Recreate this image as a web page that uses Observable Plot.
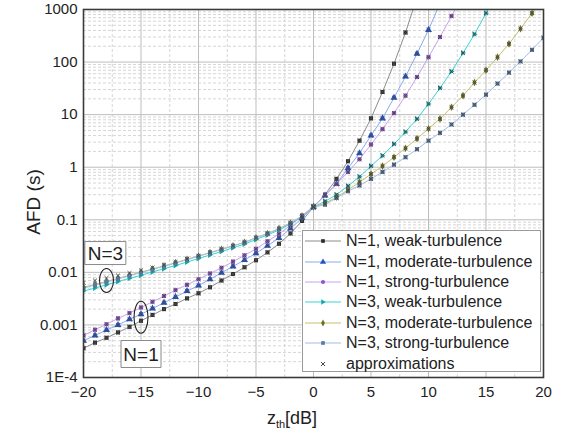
<!DOCTYPE html>
<html><head><meta charset="utf-8">
<script src="https://cdn.jsdelivr.net/npm/d3@7"></script>
<script src="https://cdn.jsdelivr.net/npm/@observablehq/plot@0.6"></script>
<style>
body{margin:0;background:#fff;font-family:"Liberation Sans",Arial,sans-serif;}
#wrap{position:relative;width:563px;height:441px;overflow:hidden;}
#legend{position:absolute;left:302px;top:230px;width:239px;height:142px;background:#fff;border:1px solid #9a9a9a;box-sizing:border-box;padding-top:0px;}
.lrow{height:20.4px;display:flex;align-items:center;font-size:16px;color:#222;white-space:nowrap;}
.lrow svg{flex:none;margin-right:3px;}
#ylab{position:absolute;left:34px;top:202px;transform:translate(-50%,-50%) rotate(-90deg);font-size:19px;color:#222;white-space:nowrap;}
#xlab{position:absolute;left:292px;top:426px;transform:translate(-50%,-80%);font-size:18px;color:#222;white-space:nowrap;}
#xlab sub{font-size:11px;vertical-align:-4px;}
</style></head><body>
<div id="wrap"></div>
<script>
// ---- data ----
const zdB = [-20,-19,-18,-17,-16,-15,-14,-13,-12,-11,-10,-9,-8,-7,-6,-5,-4,-3,-2,-1,0,1,2,3,4,5,6,7,8,9,10,11,12,13,14,15,16,17,18,19,20];
const seriesNames = ["N=1, weak-turbulence","N=1, moderate-turbulence","N=1, strong-turbulence","N=3, weak-turbulence","N=3, moderate-turbulence","N=3, strong-turbulence"];
const approxName = "approximations";
// values start at z = -20 dB, one per dB
const n1Weak = [3.6e-4,4.6e-4,5.7e-4,7.2e-4,9.2e-4,1.2e-3,1.55e-3,2.0e-3,2.5e-3,3.2e-3,
  4.0e-3,5.2e-3,7.0e-3,9.3e-3,0.0125,0.017,0.024,0.035,0.055,0.095,
  0.175,0.30,0.60,1.3,3.2,8.5,27,93,365,1700];
const n1Moderate = [5.0e-4,6.3e-4,8.0e-4,1.0e-3,1.28e-3,1.6e-3,2.05e-3,2.65e-3,3.4e-3,4.4e-3,
  5.6e-3,7.4e-3,9.8e-3,0.013,0.0172,0.023,0.032,0.045,0.068,0.108,
  0.178,0.29,0.48,0.96,1.85,4.0,8.5,21,53,144,410,1300];
const n1Strong = [6.3e-4,8.1e-4,1.03e-3,1.33e-3,1.68e-3,2.15e-3,2.75e-3,3.55e-3,4.6e-3,5.8e-3,
  7.4e-3,9.5e-3,0.0122,0.016,0.021,0.028,0.039,0.054,0.078,0.12,
  0.18,0.29,0.48,0.81,1.42,2.7,5.3,10.7,23,52,124,300,750,1900];
const n3Weak = [4.4e-3,5.04e-3,5.8e-3,6.7e-3,7.7e-3,8.8e-3,0.0102,0.0117,0.0135,0.0157,
  0.0183,0.0214,0.0249,0.0293,0.0346,0.0422,0.0513,0.064,0.083,0.115,
  0.175,0.224,0.30,0.44,0.66,1.05,1.66,2.75,4.7,8.3,16,32,66,148,340,850,2300];
const n3Moderate = [5.2e-3,5.9e-3,6.7e-3,7.7e-3,8.8e-3,0.0101,0.0116,0.0133,0.0153,0.0177,
  0.0205,0.0238,0.0275,0.032,0.0375,0.0455,0.055,0.068,0.087,0.118,
  0.175,0.205,0.27,0.37,0.52,0.74,1.05,1.55,2.3,3.5,5.4,8.3,13.8,23,41,70,124,222,430,850,1650];
const n3Strong = [5.0e-3,5.75e-3,6.55e-3,7.5e-3,8.6e-3,9.9e-3,0.0114,0.013,0.015,0.0174,
  0.0202,0.0235,0.0272,0.0317,0.037,0.045,0.0545,0.067,0.086,0.117,
  0.172,0.195,0.26,0.35,0.45,0.60,0.81,1.12,1.55,2.2,3.2,4.5,6.5,10,15.4,24,39,63,103,171,290];
// approximations for N=3 below 0 dB (sit slightly above the exact curves), z = -20 .. -1
const approxN3Low = [6.3e-3,7.0e-3,7.8e-3,8.7e-3,9.7e-3,0.0109,0.0123,0.0139,0.0158,0.018,
  0.0207,0.024,0.0277,0.0322,0.0377,0.0457,0.0552,0.068,0.087,0.118];
const xTickValues = [-20,-15,-10,-5,0,5,10,15,20];
const xMinorValues = [-17.5,-12.5,-7.5,-2.5,2.5,7.5,12.5,17.5];
const yTickValues = [1e-4,1e-3,0.01,0.1,1,10,100,1000];
const yTickLabels = ["1E-4","0.001","0.01","0.1","1","10","100","1000"];
const annLabels = ["N=3","N=1"];
const annZ = [-18.1,-15.0];
const annAFD = [0.0233,2.8e-4];
const ringZ = [-18.0,-15.0];
const ringAFD = [7.0e-3,1.4e-3];

// ---- styles ----
const allValues = [n1Weak,n1Moderate,n1Strong,n3Weak,n3Moderate,n3Strong];
const lineColors = ["#8c8c8c","#8aaaf0","#c7a2ee","#38d4d4","#c6c06a","#a3bde4"];
const markColors = ["#2a2a2a","#2354cc","#9254c9","#14a8ac","#6e6f22","#557aa8"];
const rightTri = {draw(ctx, size){const r=Math.sqrt(size/Math.PI)*1.25; ctx.moveTo(r,0); ctx.lineTo(-r*0.65,-r); ctx.lineTo(-r*0.65,r); ctx.closePath();}};
const symbols = [d3.symbolSquare, d3.symbolTriangle, d3.symbolCircle, rightTri, d3.symbolDiamond, d3.symbolSquare];
const markR = [2.3,2.6,2.3,2.4,2.3,2.3];
function ellipseSym(rx, ry){return {draw(ctx){const k=0.5523; ctx.moveTo(rx,0);
  ctx.bezierCurveTo(rx,ry*k,rx*k,ry,0,ry); ctx.bezierCurveTo(-rx*k,ry,-rx,ry*k,-rx,0);
  ctx.bezierCurveTo(-rx,-ry*k,-rx*k,-ry,0,-ry); ctx.bezierCurveTo(rx*k,-ry,rx,-ry*k,rx,0); ctx.closePath();}};}
function boxSym(w, h){return {draw(ctx){ctx.moveTo(-w/2,-h/2); ctx.lineTo(w/2,-h/2); ctx.lineTo(w/2,h/2); ctx.lineTo(-w/2,h/2); ctx.closePath();}};}

// ---- table ----
const rows = [];
allValues.forEach((vals, s) => vals.forEach((v, i) => rows.push({s, z: zdB[i], afd: v})));
const approxRows = rows.filter(d => d.s < 3 || d.z >= 0).map(d => ({z: d.z, afd: d.afd}));
approxN3Low.forEach((v, i) => approxRows.push({z: zdB[i], afd: v}));
const ann = annLabels.map((t, i) => ({t, z: annZ[i], afd: annAFD[i]}));
const rings = ringZ.map((z, i) => ({z, afd: ringAFD[i], i}));

// log minor grid values
const yMinor = [];
for (let e = -4; e < 3; e++) for (let m = 2; m <= 9; m++) yMinor.push(m * Math.pow(10, e));

const marks = [
  Plot.ruleX(xMinorValues, {stroke:"#d6d6d6", strokeDasharray:"3,2", strokeWidth:1}),
  Plot.ruleY(yMinor, {stroke:"#d6d6d6", strokeDasharray:"3,2", strokeWidth:1}),
  Plot.ruleX(xTickValues, {stroke:"#bdbdbd", strokeWidth:1}),
  Plot.ruleY(yTickValues, {stroke:"#bdbdbd", strokeWidth:1}),
];
for (let s = 0; s < 6; s++) {
  const data = rows.filter(d => d.s === s);
  marks.push(Plot.line(data, {x:"z", y:"afd", stroke: lineColors[s], strokeWidth:1, clip:true}));
}
for (let s = 0; s < 6; s++) {
  const data = rows.filter(d => d.s === s);
  marks.push(Plot.dot(data, {x:"z", y:"afd", symbol: symbols[s], r: markR[s], fill: markColors[s], stroke:"none", clip:true}));
}
marks.push(Plot.dot(approxRows, {x:"z", y:"afd", symbol:"times", r:1.9, stroke:"#4a4a4a", strokeWidth:1, clip:true}));
marks.push(Plot.dot(rings.filter(d=>d.i===0), {x:"z", y:"afd", symbol: ellipseSym(7,12), r:3, fill:"none", stroke:"#222", strokeWidth:1.1}));
marks.push(Plot.dot(rings.filter(d=>d.i===1), {x:"z", y:"afd", symbol: ellipseSym(7,16), r:3, fill:"none", stroke:"#222", strokeWidth:1.1}));
marks.push(Plot.dot(ann.filter(d=>d.t==="N=3"), {x:"z", y:"afd", symbol: boxSym(41,23), r:3, fill:"#fff", stroke:"#8a8a8a", strokeWidth:1}));
marks.push(Plot.dot(ann.filter(d=>d.t==="N=1"), {x:"z", y:"afd", symbol: boxSym(40,27), r:3, fill:"#fff", stroke:"#8a8a8a", strokeWidth:1}));
marks.push(Plot.text(ann, {x:"z", y:"afd", text:"t", fontSize:19, fill:"#222", dy:1}));
marks.push(Plot.frame({stroke:"#3a3a3a", strokeWidth:1.6}));

const chart = Plot.plot({
  width:563, height:441,
  marginLeft:83, marginRight:20, marginTop:9, marginBottom:64,
  style:{fontFamily:"'Liberation Sans', Arial, sans-serif", fontSize:"15px", color:"#222", background:"#fff"},
  x:{domain:[-20,20], ticks:xTickValues, tickSize:0, tickPadding:9, label:null},
  y:{type:"log", domain:[1e-4,1000], ticks:yTickValues, tickFormat:d => yTickLabels[yTickValues.indexOf(d)], tickSize:0, tickPadding:6, label:null},
  marks
});
const wrap = document.getElementById("wrap");
wrap.appendChild(chart);

// axis titles
const yl = document.createElement("div"); yl.id = "ylab"; yl.textContent = "AFD (s)"; wrap.appendChild(yl);
const xl = document.createElement("div"); xl.id = "xlab"; xl.innerHTML = "z<sub>th</sub>[dB]"; wrap.appendChild(xl);

// legend
const leg = d3.select(wrap).append("div").attr("id","legend");
const legItems = seriesNames.map((n, s) => ({n, s})).concat([{n: approxName, s: 6}]);
legItems.forEach(it => {
  const row = leg.append("div").attr("class","lrow");
  const svg = row.append("svg").attr("width",40).attr("height",20);
  if (it.s < 6) {
    svg.append("line").attr("x1",2).attr("x2",38).attr("y1",10).attr("y2",10).attr("stroke",lineColors[it.s]).attr("stroke-width",1);
    svg.append("path").attr("transform","translate(20,10)")
      .attr("d", d3.symbol().type(symbols[it.s]).size(Math.PI*markR[it.s]*markR[it.s]*0.8)())
      .attr("fill", markColors[it.s]);
  } else {
    svg.append("path").attr("transform","translate(20,10)")
      .attr("d", d3.symbol().type(d3.symbolTimes).size(Math.PI*2*2)())
      .attr("fill","none").attr("stroke","#4a4a4a").attr("stroke-width",1);
  }
  row.append("span").text(it.n);
});
</script>
</body></html>
